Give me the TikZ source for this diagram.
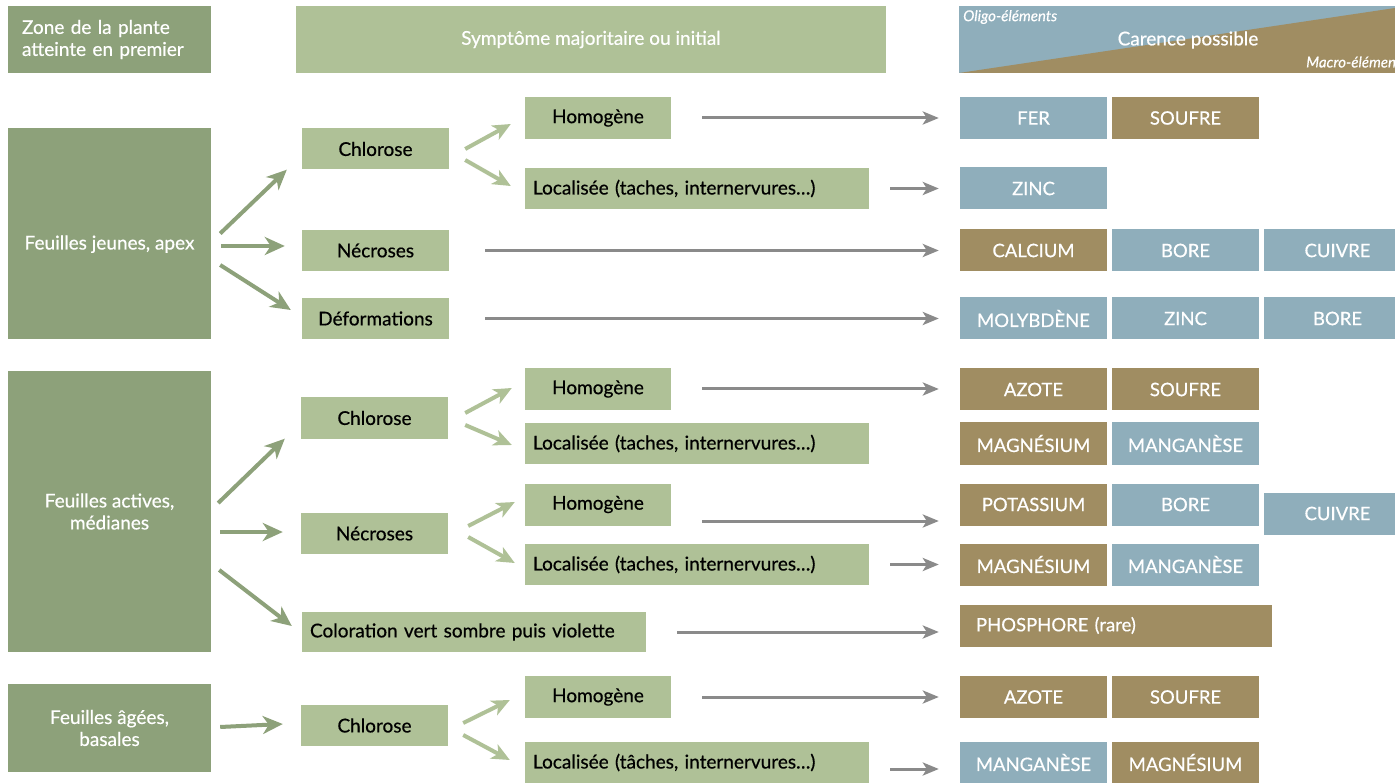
\documentclass[tikz,border=0pt]{standalone}
\usepackage{fontspec}
\setmainfont{Lato}[FakeBold=0.5]
\usetikzlibrary{arrows.meta}

\definecolor{vertfonce}{HTML}{8DA17A}
\definecolor{vertclair}{HTML}{AFC197}
\definecolor{oligo}{HTML}{8FAEBB}
\definecolor{macro}{HTML}{A08D62}
\definecolor{fleche}{HTML}{8A8A8A}

\tikzset{
  zone/.style={fill=vertfonce, text=white, minimum width=203pt, inner sep=0pt, align=center,
    font=\fontsize{19}{22}\selectfont},
  sympt/.style={fill=vertclair, text=black, minimum width=147pt, minimum height=41pt, inner sep=0pt,
    font=\fontsize{19}{22}\selectfont},
  large/.style={text width=328pt, inner xsep=8pt, align=left},
  res/.style={minimum width=147pt, minimum height=42pt, inner sep=0pt, text=white,
    font=\fontsize{18.5}{22}\selectfont},
  zarr/.style={vertfonce, line width=4pt, -{Stealth[length=20pt, width=18pt, inset=6pt]}},
  sarr/.style={vertclair, line width=4pt, -{Stealth[length=18pt, width=16pt, inset=5pt]}},
  garr/.style={fleche, line width=3pt, shorten >=21pt, -{Stealth[length=16pt, width=13pt, inset=4pt]}},
}

\begin{document}
\begin{tikzpicture}[x=1pt,y=-1pt]
\useasboundingbox (0,0) rectangle (1395,783);

% en-tete
\node[zone, text width=175pt, inner xsep=14pt, align=left, minimum height=67pt] (tzone) at (109.5,39.5) {Zone de la plante\\atteinte en premier};
\node[sympt, minimum width=590pt, minimum height=67pt, text=white] (tsympt) at (591,39.5) {Symptôme majoritaire ou initial};
\fill[oligo] (959,6) rectangle (1395,73);
\fill[macro] (959,73) -- (1395,8) -- (1395,73) -- cycle;
\node[text=white, font=\fontsize{19}{22}\selectfont] (tcar) at (1188,40) {Carence possible};
\node[text=white, anchor=west, inner sep=0pt, font=\fontsize{15}{16}\selectfont\itshape] (toligo) at (963,17) {Oligo-éléments};
\node[text=white, anchor=west, inner sep=0pt, font=\fontsize{15}{16}\selectfont\itshape] (tmacro) at (1306,62) {Macro-éléments};

% zones
\node[zone, minimum height=211pt] (z1) at (109.5,233.5) {\raisebox{-16pt}[0pt][0pt]{Feuilles jeunes, apex}};
\node[zone, minimum height=281pt] (z2) at (109.5,511.5) {Feuilles actives,\\médianes};
\node[zone, minimum height=88pt] (z3) at (109.5,728) {Feuilles âgées,\\basales};

% symptomes
\node[sympt] (c1) at (375.5,149) {Chlorose};
\node[sympt] (n1) at (375.5,250.5) {Nécroses};
\node[sympt] (d1) at (375.5,318.5) {Déformations};
\node[sympt] (c2) at (374.5,418) {Chlorose};
\node[sympt] (n2) at (374.5,533.5) {Nécroses};
\node[sympt, large, minimum height=40pt] (col) at (474,632) {Coloration vert sombre puis violette};
\node[sympt] (c3) at (374.5,725.5) {Chlorose};

\node[sympt, minimum width=146pt, minimum height=42pt] (h1) at (598,118) {Homogène};
\node[sympt, large] (l1) at (697,188.5) {Localisée (taches, internervures…)};
\node[sympt, minimum width=146pt, minimum height=42pt] (h2) at (598,389) {Homogène};
\node[sympt, large] (l2) at (697,443.5) {Localisée (taches, internervures…)};
\node[sympt, minimum width=146pt, minimum height=42pt] (h3) at (598,504.5) {Homogène};
\node[sympt, large] (l3) at (697,564.5) {Localisée (taches, internervures…)};
\node[sympt, minimum width=146pt, minimum height=42pt] (h4) at (598,697) {Homogène};
\node[sympt, large] (l4) at (697,762.5) {Localisée (tâches, internervures…)};

% carences
\node[res, fill=oligo] (fer) at (1033.5,118) {FER};
\node[res, fill=macro] (sou1) at (1185.5,118) {SOUFRE};
\node[res, fill=oligo] (zin1) at (1033.5,188.5) {ZINC};
\node[res, fill=macro] (cal) at (1033.5,250.5) {CALCIUM};
\node[res, fill=oligo] (bor1) at (1185.5,250.5) {BORE};
\node[res, fill=oligo] (cui1) at (1337.5,250.5) {CUIVRE};
\node[res, fill=oligo] (mol) at (1033.5,318.5) {MOLYBDÈNE};
\node[res, fill=oligo] (zin2) at (1185.5,318.5) {ZINC};
\node[res, fill=oligo] (bor2) at (1337.5,318.5) {BORE};
\node[res, fill=macro] (azo1) at (1033.5,389.5) {AZOTE};
\node[res, fill=macro] (sou2) at (1185.5,389.5) {SOUFRE};
\node[res, fill=macro] (mag1) at (1033.5,443.5) {MAGNÉSIUM};
\node[res, fill=oligo] (man1) at (1185.5,443.5) {MANGANÈSE};
\node[res, fill=macro] (pot) at (1033.5,504.5) {POTASSIUM};
\node[res, fill=oligo] (bor3) at (1185.5,504.5) {BORE};
\node[res, fill=oligo] (cui2) at (1337.5,513.5) {CUIVRE};
\node[res, fill=macro] (mag2) at (1033.5,564.5) {MAGNÉSIUM};
\node[res, fill=oligo] (man2) at (1185.5,564.5) {MANGANÈSE};
\node[res, fill=macro, minimum width=312pt, text width=280pt, inner xsep=16pt, align=left] (pho) at (1116,625.5) {PHOSPHORE (rare)};
\node[res, fill=macro] (azo2) at (1033.5,697) {AZOTE};
\node[res, fill=macro] (sou3) at (1185.5,697) {SOUFRE};
\node[res, fill=oligo] (man3) at (1033.5,762.5) {MANGANÈSE};
\node[res, fill=macro] (mag3) at (1185.5,762.5) {MAGNÉSIUM};

% zones vers symptomes
\draw[zarr] ([xshift=9pt]z1.east) -- ([xshift=-15pt]c1.south west);
\draw[zarr] ([xshift=10pt,yshift=-12.5pt]z1.east) -- ([xshift=-17pt,yshift=4.5pt]n1.west);
\draw[zarr] ([xshift=9pt,yshift=-31.5pt]z1.east) -- ([xshift=-11pt,yshift=8.5pt]d1.west);
\draw[zarr] ([xshift=7pt,yshift=8.5pt]z2.east) -- ([xshift=-16pt]c2.south west);
\draw[zarr] ([xshift=9pt,yshift=-20.5pt]z2.east) -- ([xshift=-18pt,yshift=1.5pt]n2.west);
\draw[zarr] ([xshift=8pt,yshift=-58.5pt]z2.east) -- ([xshift=-10pt,yshift=6pt]col.west);
\draw[zarr] ([xshift=9pt,yshift=1pt]z3.east) -- ([xshift=-18pt,yshift=1.5pt]c3.west);

% symptomes vers precisions
\draw[sarr] ([xshift=16pt]c1.east) -- ([xshift=-14pt,yshift=-6pt]h1.west);
\draw[sarr] ([xshift=16pt,yshift=-11pt]c1.east) -- ([xshift=-14pt,yshift=2.5pt]l1.west);
\draw[sarr] ([xshift=17pt,yshift=5pt]c2.east) -- ([xshift=-13pt,yshift=1pt]h2.west);
\draw[sarr] ([xshift=17pt,yshift=-7pt]c2.east) -- ([xshift=-13pt,yshift=-1.5pt]l2.west);
\draw[sarr] ([xshift=20pt,yshift=7.5pt]n2.east) -- ([xshift=-10pt,yshift=2.5pt]h3.west);
\draw[sarr] ([xshift=20pt,yshift=-3.5pt]n2.east) -- ([xshift=-10pt,yshift=1.5pt]l3.west);
\draw[sarr] ([xshift=15pt,yshift=2.5pt]c3.east) -- ([xshift=-15pt,yshift=-3pt]h4.west);
\draw[sarr] ([xshift=15pt,yshift=-9.5pt]c3.east) -- ([xshift=-15pt,yshift=2.5pt]l4.west);

% vers carences
\draw[garr] ([xshift=31pt]h1.east) -- (h1.east -| fer.west);
\draw[garr] ([xshift=21pt]l1.east) -- (l1.east -| zin1.west);
\draw[garr] ([xshift=36pt]n1.east) -- (n1.east -| cal.west);
\draw[garr] ([xshift=36pt]d1.east) -- (d1.east -| mol.west);
\draw[garr] ([xshift=31pt]h2.east) -- (h2.east -| azo1.west);
\coordinate (g3) at ([xshift=31pt,yshift=-16.5pt]h3.east);
\draw[garr] (g3) -- (g3 -| pot.west);
\draw[garr] ([xshift=21pt]l3.east) -- (l3.east -| mag2.west);
\draw[garr] ([xshift=31pt]col.east) -- (col.east -| pho.west);
\draw[garr] ([xshift=31pt]h4.east) -- (h4.east -| azo2.west);
\coordinate (g4) at ([xshift=21pt,yshift=-6.5pt]l4.east);
\draw[garr] (g4) -- (g4 -| man3.west);
\end{tikzpicture}
\end{document}
